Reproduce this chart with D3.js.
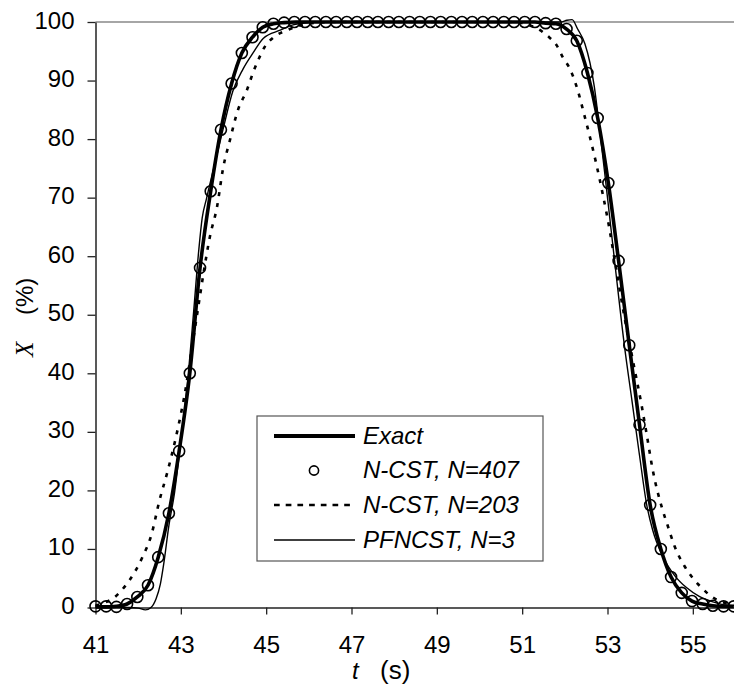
<!DOCTYPE html>
<html>
<head>
<meta charset="utf-8">
<script src="https://cdn.jsdelivr.net/npm/d3@7"></script>
<style>
  html, body { margin: 0; padding: 0; background: #fff; }
  svg { display: block; }
  text { fill: #000; }
</style>
</head>
<body>
<svg id="chart" width="734" height="687" font-family="Liberation Sans, Arial, sans-serif"></svg>
<script>
// ---------------- data ----------------
const xTicks = [41, 43, 45, 47, 49, 51, 53, 55];
const yTicks = [0, 10, 20, 30, 40, 50, 60, 70, 80, 90, 100];

// Exact solution
const exactT = [41.0, 41.25, 41.49, 41.74, 41.98, 42.23, 42.47, 42.72, 42.96, 43.21, 43.45, 43.70, 43.94, 44.19, 44.43, 44.68, 44.92, 45.17, 45.42, 45.7,
                51.0, 51.3, 51.55, 51.79, 52.04, 52.28, 52.53, 52.77, 53.02, 53.26, 53.51, 53.75, 54.0, 54.25, 54.49, 54.74, 54.98, 55.23, 55.47, 55.72, 55.96];
const exactX = [0.1, 0.1, 0.2, 0.6, 1.8, 3.8, 8.6, 16.1, 26.7, 40.0, 58.0, 71.1, 81.6, 89.5, 94.7, 97.4, 99.1, 99.7, 99.9, 100,
                100, 100, 99.8, 99.7, 98.8, 96.8, 91.3, 83.6, 72.5, 59.2, 44.8, 31.2, 17.5, 10.0, 5.2, 2.5, 1.1, 0.6, 0.3, 0.2, 0.2];

// N-CST, N=407 (circles)
const n407T = [41.00, 41.25, 41.49, 41.74, 41.98, 42.23, 42.47, 42.72, 42.96, 43.21, 43.45, 43.70, 43.94, 44.19, 44.43, 44.68, 44.92, 45.17, 45.42, 45.66,
               45.91, 46.15, 46.40, 46.64, 46.89, 47.13, 47.38, 47.62, 47.87, 48.11, 48.36, 48.60, 48.85, 49.09, 49.34, 49.59, 49.83, 50.08, 50.32, 50.57,
               50.81, 51.06, 51.30, 51.55, 51.79, 52.04, 52.28, 52.53, 52.77, 53.02, 53.26, 53.51, 53.75, 54.00, 54.25, 54.49, 54.74, 54.98, 55.23, 55.47,
               55.72, 55.96];
const n407X = [0.2, 0.2, 0.1, 0.6, 1.8, 3.8, 8.6, 16.1, 26.7, 40.0, 58.0, 71.1, 81.6, 89.5, 94.7, 97.4, 99.1, 99.7, 99.9, 100,
               100, 100, 100, 100, 100, 100, 100, 100, 100, 100, 100, 100, 100, 100, 100, 100, 100, 100, 100, 100,
               100, 100, 100, 99.8, 99.7, 98.8, 96.8, 91.3, 83.6, 72.5, 59.2, 44.8, 31.2, 17.5, 10.0, 5.2, 2.5, 1.1, 0.6, 0.3,
               0.2, 0.2];

// N-CST, N=203 (dotted)
const n203T = [41.0, 41.2, 41.42, 41.62, 41.82, 42.1, 42.31, 42.5, 42.68, 42.87, 43.0, 43.1, 43.25, 43.38, 43.53, 43.68, 43.85, 43.99, 44.15, 44.34,
               44.55, 44.7, 44.82, 44.97, 45.16, 45.49, 45.8, 46.2, 46.6, 50.8, 51.1, 51.35, 51.6, 51.81, 51.95, 52.12, 52.3, 52.45, 52.59, 52.73,
               52.9, 53.0, 53.2, 53.4, 53.6, 53.8, 53.92, 54.06, 54.29, 54.41, 54.57, 54.81, 55.0, 55.23, 55.45, 55.7, 56.0];
const n203X = [0.3, 0.8, 1.6, 3.0, 4.9, 8.6, 12.4, 18.3, 23.0, 28.6, 33.0, 36.8, 43.9, 50.0, 57.0, 63.3, 68.5, 75.0, 79.8, 85.0,
               88.4, 91.5, 93.6, 95.8, 97.3, 98.6, 99.4, 99.9, 100, 100, 99.6, 98.9, 97.6, 96.0, 94.0, 92.0, 88.4, 84.3, 80.3, 76.0,
               70.2, 66.5, 58.0, 49.5, 42.0, 34.5, 29.5, 23.5, 16.7, 14.0, 10.5, 7.0, 5.0, 3.2, 1.8, 0.9, 0.4];

// PFNCST, N=3 (thin)
const pfT = [41.0, 41.8, 42.0, 42.17, 42.3, 42.42, 42.52, 42.6, 42.72, 42.85, 43.0, 43.15, 43.3, 43.42, 43.5, 43.6, 43.77, 44.0, 44.22, 44.46,
             44.7, 44.93, 45.33, 45.63, 46.0, 46.3, 51.9, 52.05, 52.17, 52.3, 52.47, 52.59, 52.69, 52.77, 53.0, 53.2, 53.4, 53.57, 53.75, 53.92,
             54.06, 54.29, 54.57, 54.85, 55.15, 55.45, 55.7, 56.0];
const pfX = [0, 0, -0.1, -0.4, 0, 1.5, 4.0, 7.5, 14.0, 19.5, 28.5, 38.0, 50.5, 61.0, 66.5, 69.8, 75.0, 82.0, 88.2, 92.0,
             94.8, 97.2, 98.6, 99.5, 99.9, 100, 100, 100.3, 100.4, 98.8, 96.3, 93.0, 89.0, 84.5, 70.0, 57.0, 44.5, 35.5, 26.0, 17.5,
             13.2, 8.8, 5.5, 3.4, 1.9, 1.0, 0.5, 0.3];

const legendLabels = ["Exact", "N-CST, N=407", "N-CST, N=203", "PFNCST, N=3"];

// ---------------- drawing ----------------
const SANS = "Liberation Sans, Arial, sans-serif";
const SERIF = "Liberation Serif, Times New Roman, serif";
const svg = d3.select("#chart");
const x = d3.scaleLinear().domain([41, 56]).range([95.5, 735.5]);
const y = d3.scaleLinear().domain([0, 100]).range([607.5, 22]);

const zip = (ts, vs) => ts.map((t, i) => [t, vs[i]]);
const line = d3.line().x(d => x(d[0])).y(d => y(d[1])).curve(d3.curveMonotoneX);

// top gray border line at 100
svg.append("line")
  .attr("x1", x(41)).attr("x2", 734).attr("y1", y(100)).attr("y2", y(100))
  .attr("stroke", "#888").attr("stroke-width", 1.5);

// Y axis
const yAxis = d3.axisLeft(y).tickValues(yTicks).tickSize(8).tickSizeOuter(0).tickPadding(13);
const gy = svg.append("g").attr("transform", `translate(${x(41)},0)`).call(yAxis);
gy.select(".domain").attr("stroke", "#222").attr("stroke-width", 1.5);
gy.selectAll(".tick line").attr("stroke", "#222").attr("stroke-width", 1.3);
gy.selectAll(".tick text").attr("dy", "0.25em")
  .style("font-size", "24px").style("font-family", SANS);

// X axis
const xAxis = d3.axisBottom(x).tickValues(xTicks).tickSize(7).tickSizeOuter(0).tickPadding(21);
const gx = svg.append("g").attr("transform", `translate(0,${y(0)})`).call(xAxis);
gx.select(".domain").attr("stroke", "#222").attr("stroke-width", 1.5);
gx.selectAll(".tick line").attr("stroke", "#222").attr("stroke-width", 1.3);
gx.selectAll(".tick text").style("font-size", "24px").style("font-family", SANS);

// axis titles
svg.append("text").attr("x", 352).attr("y", 679).style("font-size", "24px").style("font-style", "italic")
  .style("font-family", SANS).text("t");
svg.append("text").attr("x", 380).attr("y", 679).style("font-size", "26px").style("font-family", SANS).text("(s)");
const gyl = svg.append("g").attr("transform", "translate(33,0) rotate(-90)");
gyl.append("text").attr("x", -357).attr("y", 0).style("font-size", "25px").style("font-style", "italic")
  .style("font-family", SERIF).text("X");
gyl.append("text").attr("x", -315).attr("y", 0).style("font-size", "24px").style("font-family", SANS).text("(%)");

// series
svg.append("path").datum(zip(n203T, n203X)).attr("d", line)
  .attr("fill", "none").attr("stroke", "#000").attr("stroke-width", 2.6).attr("stroke-dasharray", "4,7");
svg.append("path").datum(zip(exactT, exactX)).attr("d", line)
  .attr("fill", "none").attr("stroke", "#000").attr("stroke-width", 3.6).attr("stroke-linejoin", "round");
svg.append("path").datum(zip(pfT, pfX)).attr("d", line)
  .attr("fill", "none").attr("stroke", "#000").attr("stroke-width", 1.4);
svg.append("g").selectAll("circle").data(zip(n407T, n407X)).join("circle")
  .attr("cx", d => x(d[0])).attr("cy", d => y(d[1])).attr("r", 5.5)
  .attr("fill", "none").attr("stroke", "#000").attr("stroke-width", 1.6);

// legend
const lg = svg.append("g");
lg.append("rect").attr("x", 257).attr("y", 416).attr("width", 286).attr("height", 145)
  .attr("fill", "#fff").attr("stroke", "#555").attr("stroke-width", 1.2);
const rows = [436, 470.5, 505, 540];
lg.append("line").attr("x1", 274).attr("x2", 355).attr("y1", rows[0]).attr("y2", rows[0])
  .attr("stroke", "#000").attr("stroke-width", 3.8);
lg.append("circle").attr("cx", 314).attr("cy", rows[1]).attr("r", 4.6)
  .attr("fill", "none").attr("stroke", "#000").attr("stroke-width", 1.6);
lg.append("line").attr("x1", 274).attr("x2", 355).attr("y1", rows[2]).attr("y2", rows[2])
  .attr("stroke", "#000").attr("stroke-width", 2.6).attr("stroke-dasharray", "5.7,6");
lg.append("line").attr("x1", 274).attr("x2", 355).attr("y1", rows[3]).attr("y2", rows[3])
  .attr("stroke", "#000").attr("stroke-width", 1.5);
lg.selectAll("text.lab").data(legendLabels).join("text").attr("class", "lab")
  .attr("x", 363).attr("y", (d, i) => rows[i] + 7.5)
  .style("font-size", "24px").style("font-style", "italic").style("font-family", SANS).text(d => d);
</script>
</body>
</html>
